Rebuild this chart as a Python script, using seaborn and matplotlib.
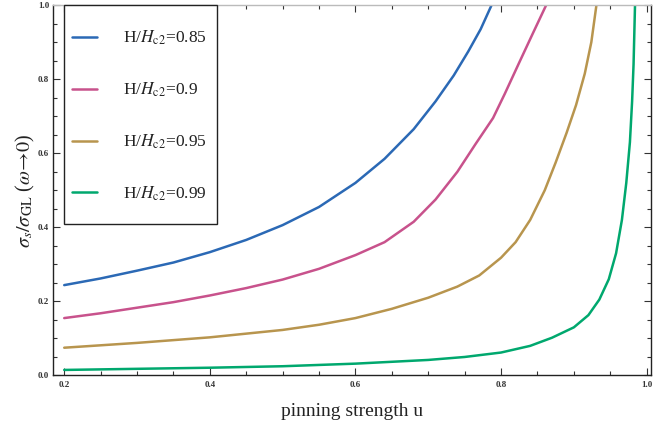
import matplotlib
matplotlib.use("Agg")
import matplotlib.pyplot as plt
import seaborn as sns
import pandas as pd
from matplotlib.ticker import MultipleLocator
from matplotlib.patches import Rectangle

sns.set_theme(style="ticks")
plt.rcParams['font.family'] = ['Liberation Serif', 'DejaVu Serif']
plt.rcParams['mathtext.fontset'] = 'stix'

labels = [r'H/$H_{\mathrm{c2}}$=0.85', r'H/$H_{\mathrm{c2}}$=0.9',
          r'H/$H_{\mathrm{c2}}$=0.95', r'H/$H_{\mathrm{c2}}$=0.99']
colors = ['#2b69b5', '#c8528c', '#b8954e', '#00a86e']

u_085 = [0.2, 0.25, 0.3, 0.35, 0.4, 0.45, 0.5, 0.55, 0.6, 0.64, 0.68, 0.71, 0.735,
         0.755, 0.772, 0.787]
s_085 = [0.244, 0.262, 0.283, 0.305, 0.333, 0.366, 0.406, 0.455, 0.52, 0.585, 0.665,
         0.74, 0.81, 0.875, 0.935, 1.0]

u_090 = [0.2, 0.25, 0.3, 0.35, 0.4, 0.45, 0.5, 0.55, 0.6, 0.64, 0.68, 0.71, 0.74,
         0.765, 0.789, 0.805, 0.825, 0.844, 0.862]
s_090 = [0.155, 0.168, 0.183, 0.198, 0.216, 0.236, 0.259, 0.288, 0.325, 0.36, 0.415,
         0.475, 0.55, 0.625, 0.695, 0.76, 0.845, 0.925, 1.0]

u_095 = [0.2, 0.3, 0.4, 0.5, 0.55, 0.6, 0.65, 0.7, 0.74, 0.77, 0.8, 0.82, 0.84,
         0.86, 0.875, 0.89, 0.903, 0.915, 0.924, 0.931]
s_095 = [0.075, 0.088, 0.103, 0.123, 0.137, 0.155, 0.18, 0.21, 0.24, 0.27, 0.318,
         0.36, 0.42, 0.50, 0.575, 0.655, 0.73, 0.815, 0.9, 1.0]

u_099 = [0.2, 0.4, 0.5, 0.6, 0.7, 0.75, 0.8, 0.84, 0.87, 0.9, 0.92, 0.935, 0.948,
         0.958, 0.966, 0.972, 0.977, 0.98, 0.982, 0.984]
s_099 = [0.015, 0.021, 0.025, 0.032, 0.042, 0.05, 0.062, 0.08, 0.102, 0.13, 0.163,
         0.205, 0.26, 0.33, 0.42, 0.52, 0.63, 0.74, 0.84, 1.0]

series = [(u_085, s_085), (u_090, s_090), (u_095, s_095), (u_099, s_099)]

fig = plt.figure(figsize=(6.63, 4.24), dpi=100)
ax = fig.add_axes([0.0804, 0.1144, 0.9010, 0.8736])

for (u, s), lab, col in zip(series, labels, colors):
    df = pd.DataFrame({'u': u, 's': s})
    sns.lineplot(data=df, x='u', y='s', ax=ax, color=col, lw=1.8,
                 label=lab, estimator=None, sort=False)

ax.set_xlim(0.185, 1.0055)
ax.set_ylim(0.0, 1.0)
ax.xaxis.set_minor_locator(MultipleLocator(0.05))
ax.yaxis.set_minor_locator(MultipleLocator(0.05))
ax.set_xticks([0.2, 0.4, 0.6, 0.8, 1.0])
ax.set_xticklabels(['0.2', '0.4', '0.6', '0.8', '1.0'], fontsize=6.5,
                   fontweight='bold', color='#333333')
ax.set_yticks([0.0, 0.2, 0.4, 0.6, 0.8, 1.0])
ax.set_yticklabels(['0.0', '0.2', '0.4', '0.6', '0.8', '1.0'], fontsize=6.5,
                   fontweight='bold', color='#333333')
ax.tick_params(which='both', direction='in', top=True, right=True, color='#333333',
               width=0.8)
ax.tick_params(which='major', length=5)
ax.tick_params(which='minor', length=3)
ax.tick_params(axis='x', pad=4)
ax.tick_params(axis='y', pad=3)

for side in ['left', 'bottom', 'right']:
    ax.spines[side].set_color('#222222')
    ax.spines[side].set_linewidth(1.0)
ax.spines['top'].set_color('#bbbbbb')
ax.spines['top'].set_linewidth(1.0)

ax.set_xlabel('pinning strength u', fontsize=14, color='#222222', labelpad=10)
ax.set_ylabel(r'$\sigma_s/\sigma_{\mathrm{GL}}$ ($\omega\!\rightarrow\!0$)', fontsize=14.5,
              color='#222222')
ax.yaxis.set_label_coords(-0.027, 0.5)

# legend frame drawn separately
ax.add_patch(Rectangle((0.0179, 0.4095), 0.2561, 0.5905, transform=ax.transAxes,
                       fill=True, facecolor='white', edgecolor='#222222', lw=1.0,
                       zorder=4, clip_on=False))
leg = ax.legend(loc='upper left', bbox_to_anchor=(0.0308, 0.936), fontsize=12.5,
                frameon=False, labelspacing=1.93, handlelength=1.44,
                handletextpad=1.51, borderpad=0.0, borderaxespad=0.0)
leg.set_zorder(5)
for t in leg.get_texts():
    t.set_color('#222222')

fig.savefig('out.png', dpi=100)
